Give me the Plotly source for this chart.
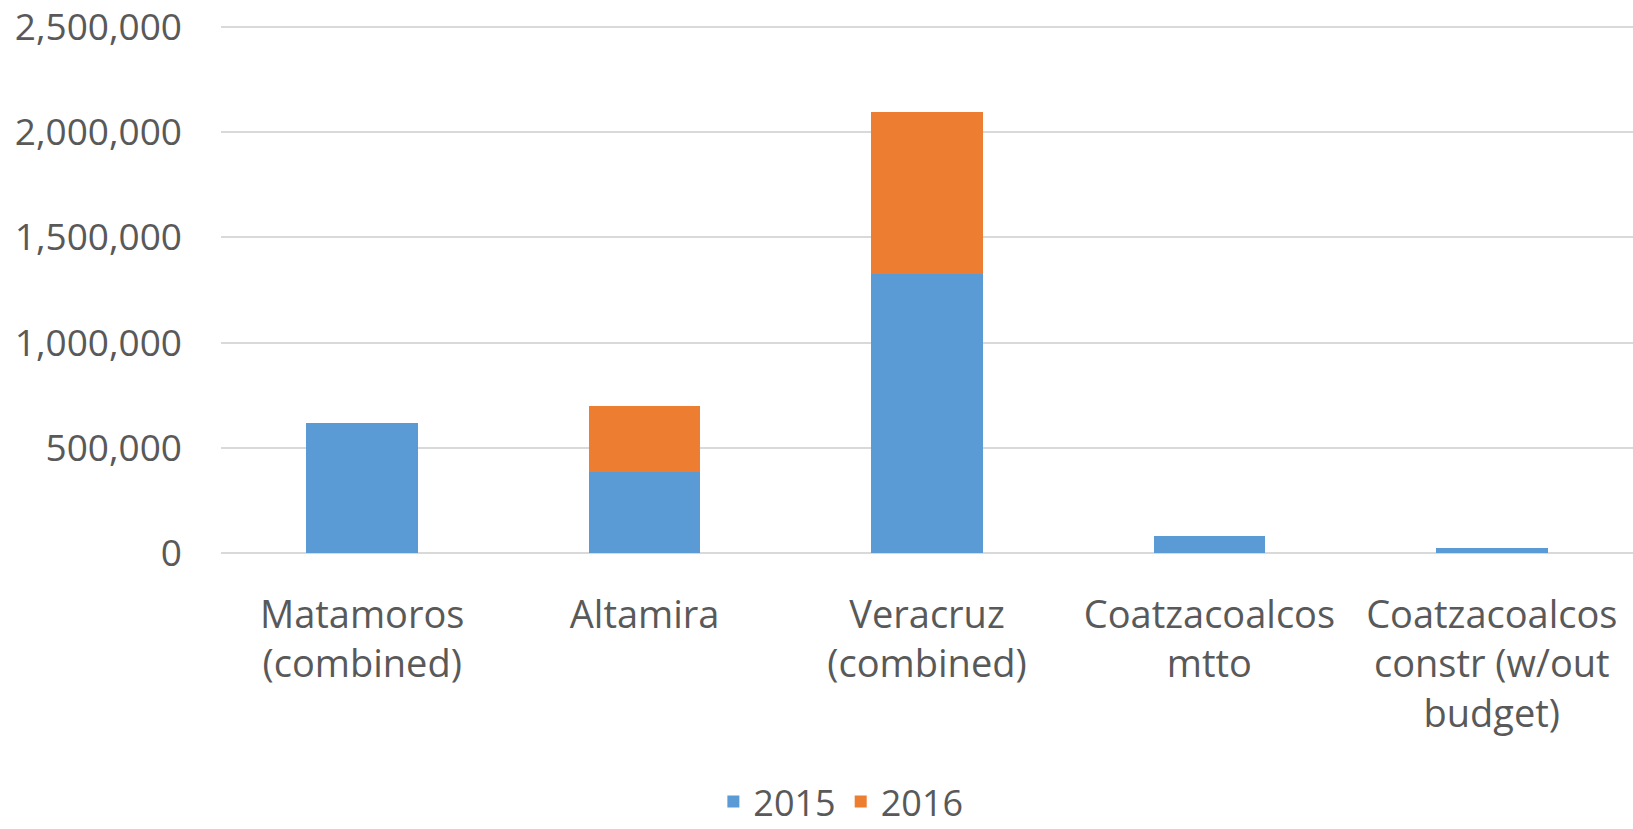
import plotly.graph_objects as go

categories = [
    "Matamoros<br>(combined)",
    "Altamira",
    "Veracruz<br>(combined)",
    "Coatzacoalcos<br>mtto",
    "Coatzacoalcos<br>constr (w/out<br>budget)",
]
values_2015 = [620000, 383000, 1325000, 82000, 26000]
values_2016 = [0, 315000, 770000, 0, 0]
y_ticks = [0, 500000, 1000000, 1500000, 2000000, 2500000]

BLUE = "#5B9BD5"
ORANGE = "#ED7D31"
TEXT = "#595959"
GRID = "#D9D9D9"

fig = go.Figure()
fig.add_trace(go.Bar(x=categories, y=values_2015, name="2015", marker=dict(color=BLUE, line_width=0)))
fig.add_trace(go.Bar(x=categories, y=values_2016, name="2016", marker=dict(color=ORANGE, line_width=0)))

fig.update_layout(
    width=1633, height=829,
    barmode="stack", bargap=0.605,
    margin=dict(l=221, r=0, t=25, b=276),
    paper_bgcolor="white", plot_bgcolor="white",
    font=dict(family="Open Sans", size=37, color=TEXT),
    showlegend=True,
    legend=dict(orientation="h", x=0.439, xanchor="center",
                yref="container", y=0.033, yanchor="middle",
                font=dict(size=36, color=TEXT), traceorder="normal"),
)
fig.update_xaxes(showgrid=False, showline=False, ticks="", ticklabelstandoff=36,
                 automargin=False, tickfont=dict(size=38, color=TEXT))
# top a little past 2.5M so plotly keeps the top gridline
fig.update_yaxes(range=[0, 2510000], tickvals=y_ticks, tickformat=",d",
                 showgrid=True, gridcolor=GRID, gridwidth=2,
                 zeroline=True, zerolinecolor=GRID, zerolinewidth=2,
                 showline=False, ticks="", ticklabelstandoff=38,
                 automargin=False, tickfont=dict(size=37, color=TEXT))

fig.write_html("out.html", config={"displayModeBar": False},
               post_script="document.body.style.margin='0';")
